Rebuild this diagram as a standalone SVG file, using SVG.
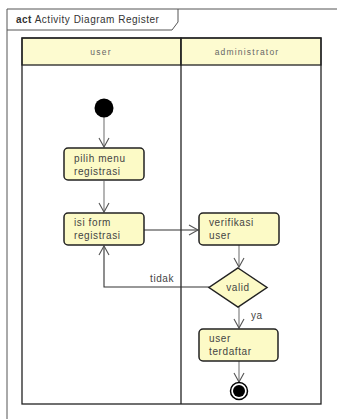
<svg xmlns="http://www.w3.org/2000/svg" width="337" height="419" viewBox="0 0 337 419">
  <style>
    .frame { fill: none; stroke: #555; stroke-width: 1; }
    .lane { fill: none; stroke: #222; stroke-width: 1.3; }
    .head { fill: #fdfbd0; stroke: #222; stroke-width: 1.3; }
    .act { fill: #fcfac6; stroke: #222; stroke-width: 1.5; }
    .txt { font-family: "Liberation Sans", Arial, sans-serif; font-size: 10px; letter-spacing: 0.6px; fill: #444; }
    .hdr { font-family: "Liberation Sans", Arial, sans-serif; font-size: 8.5px; letter-spacing: 1.2px; fill: #666; text-anchor: middle; }
    .ttl { font-family: "Liberation Sans", Arial, sans-serif; font-size: 10px; letter-spacing: 0.5px; fill: #333; }
    .edge { fill: none; stroke: #777; stroke-width: 1.1; }
    .edge-dark { fill: none; stroke: #333; stroke-width: 1.1; }
  </style>
  <defs>
    <marker id="open" markerWidth="12" markerHeight="12" refX="10" refY="6" orient="auto" markerUnits="userSpaceOnUse">
      <path d="M1,1 L10,6 L1,11" fill="none" stroke="#555" stroke-width="1.1"/>
    </marker>
  </defs>
  <rect width="337" height="419" fill="#ffffff"/>

  <!-- diagram frame with name tab -->
  <g id="frame">
    <path class="frame" d="M7,425 L7,9 L345,9"/>
    <path class="frame" d="M7,30 L172,30 L178,22 L178,9"/>
    <text class="ttl" x="16" y="23"><tspan font-weight="bold">act</tspan> Activity Diagram Register</text>
  </g>

  <!-- swimlanes -->
  <g id="lanes">
    <rect class="head" x="22" y="38" width="159" height="27"/>
    <rect class="head" x="181" y="38" width="140" height="27"/>
    <rect class="lane" x="22" y="38" width="299" height="366"/>
    <line class="lane" x1="181" y1="38" x2="181" y2="404"/>
    <text class="hdr" x="101" y="55">user</text>
    <text class="hdr" x="247" y="55">administrator</text>
  </g>

  <!-- connectors -->
  <g id="connectors">
    <line class="edge" x1="104" y1="117" x2="104" y2="147" marker-end="url(#open)"/>
    <line class="edge" x1="104" y1="181" x2="104" y2="212" marker-end="url(#open)"/>
    <line class="edge-dark" x1="144" y1="230" x2="198" y2="230" marker-end="url(#open)"/>
    <line class="edge" x1="239" y1="245" x2="239" y2="267" marker-end="url(#open)"/>
    <polyline class="edge-dark" points="209,287 104,287 104,246" marker-end="url(#open)"/>
    <text class="txt" x="150" y="282">tidak</text>
    <line class="edge" x1="239" y1="307" x2="239" y2="328" marker-end="url(#open)"/>
    <text class="txt" x="251" y="319">ya</text>
    <line class="edge" x1="239" y1="361" x2="239" y2="382" marker-end="url(#open)"/>
  </g>

  <!-- nodes -->
  <g id="start">
    <circle cx="104" cy="108" r="9.5" fill="#000"/>
  </g>
  <g id="pilih-menu">
    <rect class="act" x="64" y="148" width="80" height="32" rx="4"/>
    <text class="txt" x="74" y="162">pilih menu</text>
    <text class="txt" x="74" y="175">registrasi</text>
  </g>
  <g id="isi-form">
    <rect class="act" x="64" y="213" width="80" height="32" rx="4"/>
    <text class="txt" x="74" y="226">isi form</text>
    <text class="txt" x="74" y="239">registrasi</text>
  </g>
  <g id="verifikasi">
    <rect class="act" x="199" y="213" width="80" height="32" rx="4"/>
    <text class="txt" x="209" y="226">verifikasi</text>
    <text class="txt" x="209" y="239">user</text>
  </g>
  <g id="valid">
    <polygon class="act" points="238,268 267,287.5 238,307 209,287.5"/>
    <text class="txt" x="238" y="291" text-anchor="middle" letter-spacing="1.5">valid</text>
  </g>
  <g id="terdaftar">
    <rect class="act" x="199" y="329" width="79" height="32" rx="4"/>
    <text class="txt" x="209" y="342">user</text>
    <text class="txt" x="209" y="355">terdaftar</text>
  </g>
  <g id="end">
    <circle cx="239" cy="391" r="8.5" fill="#fff" stroke="#000" stroke-width="1.5"/>
    <circle cx="239" cy="391" r="6" fill="#000"/>
  </g>
</svg>
